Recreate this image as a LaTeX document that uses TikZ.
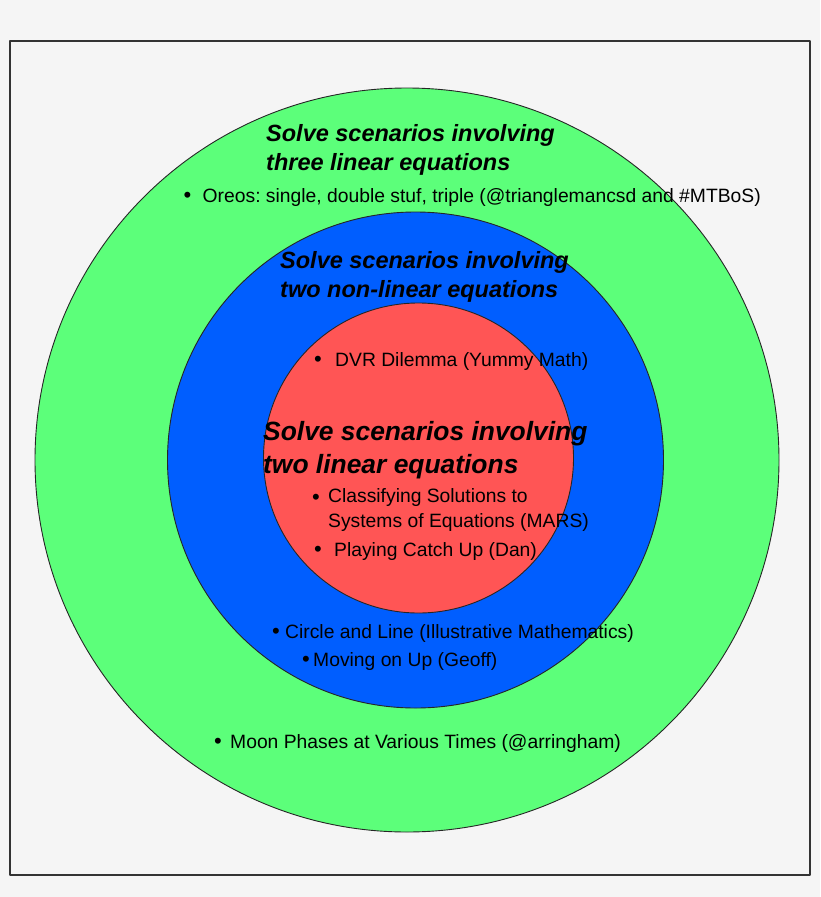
\documentclass[tikz,border=0pt]{standalone}
\usepackage{fontspec}
\setmainfont{Liberation Sans}
\usetikzlibrary{positioning}
\definecolor{pagegray}{RGB}{245,245,245}
\definecolor{ringgreen}{RGB}{92,255,122}
\definecolor{ringblue}{RGB}{0,94,255}
\definecolor{ringred}{RGB}{255,85,85}
\frenchspacing

\begin{document}
\begin{tikzpicture}[x=1pt, y=-1pt, line join=round,
    ring/.style={draw=black!85, line width=0.9pt},
    title/.style={anchor=base west, inner sep=0pt, font=\fontsize{23.5}{28}\selectfont\bfseries\itshape},
    bigtitle/.style={title, font=\fontsize{26.4}{32}\selectfont\bfseries\itshape},
    item/.style={anchor=base west, inner sep=0pt, font=\fontsize{19.3}{24}\selectfont},
    dot/.style={inner sep=0pt, font=\fontsize{22}{24}\selectfont}]
          % page and frame
          \fill[pagegray] (0,0) rectangle (820,897);
          \draw[black!80, line width=1.2pt] (10,41) rectangle (810,875);
          % the three rings
          \filldraw[ring, fill=ringgreen] (407,460) circle (372pt);
          \filldraw[ring, fill=ringblue] (415.5,460) circle (248pt);
          \filldraw[ring, fill=ringred] (418.5,458) circle (155pt);
          % outer ring
          \node[title] (threelin1) at (266,141) {Solve scenarios involving};
          \node[title] (threelin2) at (266,170) {three linear equations};
          \node[item] (oreos) at (202.5,202) {Oreos: single, double stuf, triple (@trianglemancsd and \#MTBoS)};
          \node[item] (moon) at (230,748) {Moon Phases at Various Times (@arringham)};
          % middle ring
          \node[title] (nonlin1) at (280,268) {Solve scenarios involving};
          \node[title] (nonlin2) at (280,297) {two non-linear equations};
          \node[item] (circline) at (285,638) {Circle and Line (Illustrative Mathematics)};
          \node[item] (moving) at (313,666.5) {Moving on Up (Geoff)};
          % inner ring
          \node[bigtitle] (twolin1) at (263,440) {Solve scenarios involving};
          \node[bigtitle] (twolin2) at (263,473) {two linear equations};
          \node[item] (dvr) at (335,366.5) {DVR Dilemma (Yummy Math)};
          \node[item] (classify1) at (328,502.5) {Classifying Solutions to};
          \node[item] (classify2) at (328,527) {Systems of Equations (MARS)};
          \node[item] (catchup) at (334,556.5) {Playing Catch Up (Dan)};
          % bullets
          \node[dot, left=11pt of oreos.base west, anchor=base east] (oreosdot) {•};
          \node[dot, left=8pt of moon.base west, anchor=base east] (moondot) {•};
          \node[dot, left=5pt of circline.base west, anchor=base east] (circlinedot) {•};
          \node[dot, left=3pt of moving.base west, anchor=base east] (movingdot) {•};
          \node[dot, left=13pt of dvr.base west, anchor=base east] (dvrdot) {•};
          \node[dot, left=8pt of classify1.base west, anchor=base east, yshift=-2pt] (classifydot) {•};
          \node[dot, left=12pt of catchup.base west, anchor=base east] (catchupdot) {•};
        \end{tikzpicture}
\end{document}
